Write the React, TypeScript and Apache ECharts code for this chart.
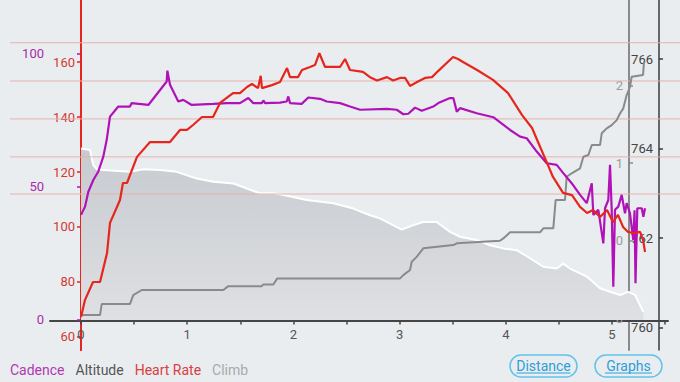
import React, { useEffect, useRef } from "react";
import * as echarts from "echarts";

// ---------- data ----------
const seriesNames = ["Cadence", "Altitude", "Heart Rate", "Climb"];

const cadenceDist = [0, 0.038, 0.069, 0.116, 0.163, 0.21, 0.242, 0.273, 0.351, 0.461, 0.477, 0.634, 0.807, 0.813, 0.838, 0.916, 0.963, 1.042, 1.246, 1.372, 1.497, 1.575, 1.622, 1.702, 1.717, 1.733, 1.874, 1.937, 1.952, 1.968, 2.078, 2.14, 2.25, 2.314, 2.439, 2.533, 2.627, 2.879, 2.973, 3.035, 3.082, 3.145, 3.208, 3.317, 3.364, 3.475, 3.506, 3.538, 3.569, 3.726, 3.882, 4.04, 4.134, 4.197, 4.291, 4.385, 4.479, 4.541, 4.62, 4.699, 4.762, 4.809, 4.824, 4.871, 4.918, 4.934, 4.965, 4.981, 4.997, 5.012, 5.028, 5.059, 5.091, 5.122, 5.138, 5.169, 5.2, 5.212, 5.221, 5.238, 5.28, 5.295, 5.311];
const cadenceRpm = [39.3, 42.4, 48.0, 52.4, 55.6, 61.2, 67.5, 76.2, 80.0, 80.0, 81.3, 80.6, 89.4, 93.5, 88.2, 81.9, 82.5, 80.6, 81.0, 81.3, 81.3, 83.2, 81.3, 81.3, 82.3, 81.3, 81.5, 81.9, 83.8, 81.3, 81.0, 83.4, 82.9, 81.9, 81.3, 80.0, 78.8, 79.1, 78.8, 77.1, 77.3, 79.6, 78.4, 80.0, 81.3, 83.2, 83.2, 78.1, 79.4, 77.5, 76.0, 71.2, 68.7, 68.1, 63.1, 58.7, 58.1, 55.0, 51.2, 46.8, 43.7, 51.2, 39.3, 41.2, 28.6, 41.8, 44.9, 58.1, 41.2, 12.3, 41.2, 42.4, 46.8, 39.9, 43.7, 39.9, 29.9, 41.0, 13.6, 41.8, 41.8, 38.6, 41.8];

const hrDist = [0, 0.038, 0.113, 0.179, 0.245, 0.273, 0.367, 0.395, 0.433, 0.527, 0.65, 0.838, 0.932, 0.998, 1.055, 1.139, 1.243, 1.309, 1.431, 1.497, 1.563, 1.61, 1.667, 1.692, 1.704, 1.798, 1.874, 1.94, 1.968, 2.043, 2.081, 2.156, 2.203, 2.244, 2.298, 2.439, 2.486, 2.533, 2.655, 2.721, 2.787, 2.881, 2.938, 3.004, 3.051, 3.098, 3.164, 3.239, 3.305, 3.362, 3.503, 3.55, 3.597, 3.729, 3.879, 4.021, 4.153, 4.247, 4.303, 4.388, 4.444, 4.539, 4.623, 4.699, 4.765, 4.821, 4.887, 4.953, 5.009, 5.056, 5.104, 5.151, 5.198, 5.264, 5.292, 5.311];
const hrBpm = [67.3, 73.5, 80.0, 80.0, 90.5, 101.5, 109.8, 116.0, 116.0, 125.5, 130.9, 130.9, 135.3, 135.3, 137.1, 140.0, 140.0, 145.1, 148.7, 148.7, 150.9, 152.0, 150.5, 155.0, 150.5, 151.6, 152.7, 157.8, 154.5, 154.5, 157.1, 158.2, 158.9, 163.2, 158.2, 158.2, 161.1, 157.1, 156.4, 154.5, 153.3, 154.5, 153.3, 154.2, 154.2, 151.3, 152.7, 154.2, 154.5, 156.7, 161.8, 161.1, 160.0, 157.1, 153.5, 148.7, 140.7, 136.0, 130.9, 123.3, 118.2, 112.4, 111.6, 107.3, 105.1, 106.2, 103.6, 106.2, 101.8, 104.4, 100.0, 98.2, 97.8, 98.2, 95.3, 90.9];

const climbDist = [0.007, 0.179, 0.195, 0.461, 0.492, 0.572, 1.34, 1.387, 1.702, 1.717, 1.811, 1.848, 3.004, 3.035, 3.098, 3.114, 3.161, 3.223, 3.506, 3.538, 3.945, 3.976, 4.04, 4.322, 4.353, 4.447, 4.469, 4.557, 4.573, 4.62, 4.699, 4.73, 4.777, 4.809, 4.887, 4.903, 4.95, 4.997, 5.044, 5.075, 5.106, 5.138, 5.169, 5.185, 5.292, 5.301];
const climbValues = [0.019, 0.019, 0.09, 0.09, 0.148, 0.181, 0.181, 0.206, 0.206, 0.217, 0.217, 0.256, 0.256, 0.277, 0.31, 0.363, 0.395, 0.45, 0.471, 0.482, 0.499, 0.514, 0.553, 0.553, 0.579, 0.579, 0.761, 0.761, 0.912, 0.934, 0.966, 1.041, 1.052, 1.116, 1.116, 1.192, 1.224, 1.245, 1.277, 1.32, 1.353, 1.439, 1.492, 1.557, 1.568, 1.654];

const altitudeDist = [0, 0.085, 0.101, 0.116, 0.148, 0.21, 0.461, 0.587, 0.744, 0.901, 1.089, 1.246, 1.434, 1.685, 1.811, 1.874, 2.125, 2.376, 2.564, 2.721, 2.815, 3.02, 3.129, 3.223, 3.349, 3.475, 3.569, 3.726, 3.851, 3.976, 4.103, 4.228, 4.353, 4.479, 4.541, 4.605, 4.762, 4.887, 4.981, 5.075, 5.154, 5.217, 5.295];
const altitudeMeters = [764.0, 763.97, 763.78, 763.63, 763.54, 763.52, 763.48, 763.54, 763.52, 763.48, 763.33, 763.26, 763.22, 763.0, 763.0, 762.98, 762.85, 762.78, 762.66, 762.51, 762.44, 762.19, 762.29, 762.36, 762.36, 762.14, 762.03, 761.96, 761.84, 761.77, 761.73, 761.55, 761.36, 761.32, 761.43, 761.32, 761.14, 760.88, 760.8, 760.73, 760.8, 760.73, 760.35];

const hrZones = [112, 125.5, 139.3, 153.1, 167];

const distTicks = [0, 0.5, 1, 1.5, 2, 2.5, 3, 3.5, 4, 4.5, 5, 5.5];
const distLabels = [0, 1, 2, 3, 4, 5];
const cadenceTicks = [0, 50, 100];
const hrTicks = [60, 80, 100, 120, 140, 160];
const climbTicks = [0, 0.5, 1, 1.5];
const climbTickLabels = ["0", "0", "1", "2"];
const altitudeTicks = [760, 762, 764, 766];
const buttonLabels = ["Distance", "Graphs"];

// ---------- styling ----------
const C_CAD = "#b012b8";
const C_HR = "#e6261c";
const C_CLIMB = "#8a8a8a";
const C_ALT_AXIS = "#3a3a3a";
const BG = "#e9edf0";
const FONT = "Roboto";
const X_MIN = -0.292;
const X_MAX = 5.527;

const zip = (a: number[], b: number[]) => a.map((x, i) => [x, b[i]]);

export default function App() {
  const ref = useRef<HTMLDivElement>(null);

  useEffect(() => {
    if (!ref.current) return;
    const chart = echarts.init(ref.current, null, { renderer: "svg" });

    const yAxisFor = (
      ticks: number[],
      labelColor: string,
      lineColor: string,
      lineWidth: number,
      extra: Record<string, unknown>,
      labelExtra: Record<string, unknown> = {}
    ) => ({
      type: "value",
      gridIndex: 0,
      axisLine: { show: true, lineStyle: { color: lineColor, width: lineWidth } },
      axisTick: { show: true, customValues: ticks, length: 4, lineStyle: { color: lineColor, width: 1.5 } },
      axisLabel: { customValues: ticks, color: labelColor, fontSize: 13, fontFamily: FONT, margin: 6, ...labelExtra },
      splitLine: { show: false },
      ...extra,
    });

    const buttonGraphics = buttonLabels.map((label, i) => {
      const left = 510 + i * 85;
      const textW = label === "Distance" ? 54 : 47;
      return {
        type: "group",
        x: left,
        y: 355,
        children: [
          {
            type: "rect",
            shape: { x: 0, y: 0, width: 67, height: 22, r: 11 },
            style: { fill: "none", stroke: "#62c2ec", lineWidth: 1.5 },
          },
          {
            type: "text",
            x: 33.5,
            y: 11,
            style: {
              text: label,
              fill: "#2c9fd9",
              font: `14px ${FONT}`,
              textAlign: "center",
              textVerticalAlign: "middle",
            },
          },
          {
            type: "line",
            shape: { x1: 33.5 - textW / 2, y1: 18, x2: 33.5 + textW / 2, y2: 18 },
            style: { stroke: "#2c9fd9", lineWidth: 1 },
          },
        ],
      };
    });

    const zoneSeries = hrZones.map((v, i) => ({
      name: `zone${i}`,
      type: "line",
      xAxisIndex: 1,
      yAxisIndex: 4,
      symbol: "none",
      silent: true,
      data: [[0, v], [1, v]],
      lineStyle: { color: "#e6b2ad", width: 1 },
      z: 2,
    }));

    chart.setOption({
      animation: false,
      backgroundColor: BG,
      textStyle: { fontFamily: FONT },
      grid: [
        { left: 50, right: 12, top: 0, height: 350 },
        { left: 10, right: 0, top: 0, height: 350 },
        { left: 50, right: 12, top: 0, height: 320.5 },
      ],
      legend: {
        left: 0,
        top: 358,
        icon: "none",
        itemWidth: 0,
        itemHeight: 14,
        itemGap: 6,
        selectedMode: false,
        textStyle: { fontSize: 14, fontFamily: FONT },
        data: [
          { name: seriesNames[0], textStyle: { color: "#b03ab0" } },
          { name: seriesNames[1], textStyle: { color: "#555555" } },
          { name: seriesNames[2], textStyle: { color: "#d84040" } },
          { name: seriesNames[3], textStyle: { color: "#aaaaaa" } },
        ],
      },
      xAxis: [
        { type: "value", gridIndex: 0, min: X_MIN, max: X_MAX, show: false },
        { type: "value", gridIndex: 1, min: 0, max: 1, show: false },
        {
          type: "value",
          gridIndex: 2,
          min: X_MIN,
          max: X_MAX,
          axisLine: { show: true, onZero: false, lineStyle: { color: "#454545", width: 2 } },
          axisTick: { show: true, customValues: distTicks, length: 4, lineStyle: { color: "#454545", width: 1.5 } },
          axisLabel: { customValues: distLabels, color: "#555", fontSize: 13, fontFamily: FONT, margin: 7 },
          splitLine: { show: false },
        },
      ],
      yAxis: [
        yAxisFor(cadenceTicks, "#a82ca8", C_CAD, 2, { position: "left", offset: 0, min: -11.47, max: 120.04 }),
        yAxisFor(hrTicks, "#d23a32", C_HR, 2, { position: "left", offset: -31, min: 55.27, max: 182.55 }),
        yAxisFor(
          climbTicks,
          "#9a9a9a",
          C_CLIMB,
          2,
          { position: "right", offset: -39, min: -0.206, max: 2.052 },
          { inside: true, formatter: (v: number) => climbTickLabels[climbTicks.indexOf(v)] ?? "" }
        ),
        yAxisFor(altitudeTicks, "#444", C_ALT_AXIS, 1.5, { position: "right", offset: -9, min: 759.5, max: 767.32 }, { inside: true }),
        { type: "value", gridIndex: 1, min: 55.27, max: 182.55, show: false },
        { type: "value", gridIndex: 2, min: 0, max: 1, show: false },
      ],
      series: [
        {
          name: "Altitude",
          type: "line",
          xAxisIndex: 0,
          yAxisIndex: 3,
          symbol: "none",
          data: zip(altitudeDist, altitudeMeters),
          lineStyle: { color: "#ffffff", width: 2 },
          itemStyle: { color: "#555555" },
          areaStyle: {
            origin: 760.17,
            opacity: 1,
            color: new echarts.graphic.LinearGradient(0, 0, 0, 1, [
              { offset: 0, color: "#c7cacf" },
              { offset: 1, color: "#dee0e3" },
            ]),
          },
          z: 1,
        },
        ...zoneSeries,
        {
          name: "Climb",
          type: "line",
          xAxisIndex: 0,
          yAxisIndex: 2,
          symbol: "none",
          data: zip(climbDist, climbValues),
          lineStyle: { color: C_CLIMB, width: 2 },
          itemStyle: { color: "#aaaaaa" },
          z: 3,
        },
        {
          name: "Cadence",
          type: "line",
          xAxisIndex: 0,
          yAxisIndex: 0,
          symbol: "none",
          data: zip(cadenceDist, cadenceRpm),
          lineStyle: { color: C_CAD, width: 2.2 },
          itemStyle: { color: C_CAD },
          z: 4,
        },
        {
          name: "Heart Rate",
          type: "line",
          xAxisIndex: 0,
          yAxisIndex: 1,
          symbol: "none",
          data: zip(hrDist, hrBpm),
          lineStyle: { color: C_HR, width: 2.2 },
          itemStyle: { color: C_HR },
          z: 5,
        },
      ],
      graphic: buttonGraphics,
    });

    return () => chart.dispose();
  }, []);

  return (
    <div
      ref={ref}
      style={{ position: "absolute", left: 0, top: 0, width: 680, height: 382, background: BG }}
    />
  );
}
